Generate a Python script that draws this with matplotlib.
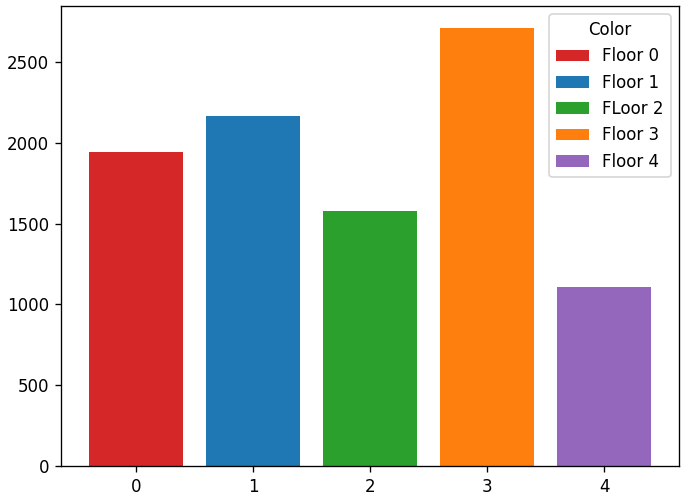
import matplotlib
matplotlib.use('Agg')
import matplotlib.pyplot as plt

floors = [0, 1, 2, 3, 4]
counts = [1942, 2165, 1580, 2712, 1105]
labels = ['Floor 0', 'Floor 1', 'FLoor 2', 'Floor 3', 'Floor 4']
colors = ['tab:red', 'tab:blue', 'tab:green', 'tab:orange', 'tab:purple']

fig = plt.figure(figsize=(688/120, 502/120), dpi=120)
ax = fig.add_subplot(111)
fig.subplots_adjust(left=61/688, right=679/688, top=1-6/502, bottom=1-466/502)

ax.bar(floors, counts, label=labels, color=colors)
ax.legend(title='Color')

fig.savefig('out.png', dpi=120)
